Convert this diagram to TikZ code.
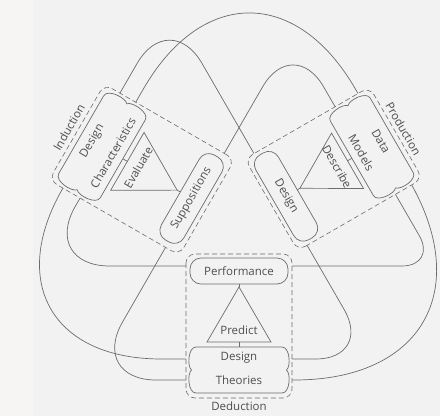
\documentclass[tikz,border=0pt]{standalone}
\usepackage{fontspec}
\setmainfont{Open Sans}
\usetikzlibrary{positioning}

\definecolor{paper}{HTML}{F2F2F2}
\definecolor{margin}{HTML}{F7F5F3}
\definecolor{ink}{HTML}{6C6C6C}
\definecolor{lettering}{HTML}{4E4E4E}

% one module: frame, box, triangle, cloud and the labels
\newcommand{\module}[8]{%
  \begin{scope}[#2]
    \draw[modframe] (-53,-69.6) rectangle (53,74.4);
    \node[pill,rotate=#3] (#1-box) at (0,-52.6) {#4};
    \draw[loopline] (0,-36.6) -- (32,18.4) -- (-32,18.4) -- cycle;
    \draw[loopline] (0,-39.6) -- (0,-36.6);
    \draw[loopline] (0,18.4) -- (0,23.4);
    \draw[loopline,fill=paper] (-43,23.4) -- (43,23.4)
      .. controls (51,23.4) and (52,43) .. (47.5,46.4)
      .. controls (52,50) and (51,69.4) .. (43,69.4) -- (-43,69.4)
      .. controls (-51,69.4) and (-52,50) .. (-47.5,46.4)
      .. controls (-52,43) and (-51,23.4) .. (-43,23.4) -- cycle;
    \node[word,rotate=#3] (#1-in) at (0,34.4) {#5};
    \node[word,rotate=#3] (#1-out) at (0,57) {#6};
    \node[word,rotate=#3] (#1-act) at (0,6.4) {#7};
    \node[word,rotate=#3] (#1-name) at (0,83) {#8};
  \end{scope}}

\begin{document}
\begin{tikzpicture}[x=1pt,y=-1pt,
	loopline/.style={draw=ink,line width=.7pt},
	modframe/.style={draw=ink,line width=.6pt,dash pattern=on 5pt off 3pt,rounded corners=9pt,fill=paper},
	pill/.style={draw=ink,line width=.7pt,fill=paper,rounded corners=11pt,minimum width=98pt,minimum height=26pt,inner sep=0pt,text=lettering,font=\fontsize{11.5}{13}\selectfont},
	word/.style={text=lettering,font=\fontsize{11.5}{13}\selectfont,inner sep=0pt},
	]
	\useasboundingbox (0,0) rectangle (440,416);
	\fill[paper] (0,0) rectangle (440,416);
	\fill[margin] (0,0) rectangle (33,416);

	% ports where the loops run into the modules
	\coordinate (ded-p-l) at (200,266);
	\coordinate (ded-d-l) at (200,359);
	\coordinate (ded-t-l) at (200,380);
	\coordinate (ded-p-r) at (278,266);
	\coordinate (ded-d-r) at (278,359);
	\coordinate (ded-t-r) at (278,380);
	\coordinate (ind-in-lo) at (90,181);
	\coordinate (ind-out-lo) at (72,172.4);
	\coordinate (ind-box-lo) at (175,231);
	\coordinate (ind-box-up) at (215,169.3);
	\coordinate (ind-in-up) at (127,117.3);
	\coordinate (ind-out-up) at (110,110.3);
	\coordinate (pro-in-up) at (347,127.3);
	\coordinate (pro-out-up) at (370,114.3);
	\coordinate (pro-box-up) at (265,172.6);
	\coordinate (pro-in-lo) at (387,179.7);
	\coordinate (pro-box-lo) at (289.6,215);
	\coordinate (pro-out-lo) at (403,169.7);
	% corners of the loops
	\coordinate (v1) at (40.7,266);
	\coordinate (v2) at (-35.7,359);
	\coordinate (v3) at (89.1,380);
	\coordinate (v4) at (293.1,34);
	\coordinate (v5) at (249.4,-94.6);
	\coordinate (v6) at (169.6,7.2);
	\coordinate (v7) at (436.8,266);
	\coordinate (v8) at (372.7,359);
	\coordinate (v9) at (524.4,380);

	\draw[loopline,rounded corners=69pt] (ded-p-l) -- (v1) -- (ind-in-lo);
	\draw[loopline,rounded corners=197pt] (ded-d-l) -- (v2) -- (ind-out-lo);
	\draw[loopline,rounded corners=67pt] (ded-t-l) -- (v3) -- (ind-box-lo);
	\draw[loopline,rounded corners=61pt] (ind-box-up) -- (v4) -- (pro-in-up);
	\draw[loopline,rounded corners=212pt] (ind-in-up) -- (v5) -- (pro-out-up);
	\draw[loopline,rounded corners=65pt] (ind-out-up) -- (v6) -- (pro-box-up);
	\draw[loopline,rounded corners=35pt] (ded-p-r) -- (v7) -- (pro-in-lo);
	\draw[loopline,rounded corners=57pt] (ded-d-r) -- (v8) -- (pro-box-lo);
	\draw[loopline,rounded corners=230pt] (ded-t-r) -- (v9) -- (pro-out-lo);

	\module{ded}{shift={(239,323.6)}}{0}{Performance}{Design}{Theories}{Predict}{Deduction}
	\module{ind}{shift={(144,171)},rotate=-120,scale=1.045}{60}{Suppositions}{Characteristics}{Design}{Evaluate}{Induction}
	\module{pro}{shift={(331.6,170)},rotate=120}{-60}{Design}{Models}{Data}{Describe}{Production}
\end{tikzpicture}
\end{document}
